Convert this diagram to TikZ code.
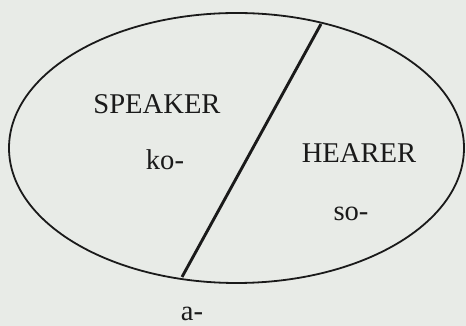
\documentclass[tikz,border=0pt]{standalone}
\usepackage{fontspec}
\setmainfont{Liberation Serif}
\usetikzlibrary{shapes.geometric}
\definecolor{paper}{HTML}{E8EBE7}
\definecolor{ink}{HTML}{1A1A1A}
\tikzset{
  field/.style={draw=ink, ellipse, line width=1.8pt, inner sep=0pt,
    minimum width=455pt, minimum height=270pt},
  divider/.style={draw=ink, line width=2.9pt},
  lbl/.style={anchor=base, text=ink, inner sep=0pt,
    font=\fontsize{28.6}{30}\selectfont}
}
\begin{document}
\begin{tikzpicture}[x=1pt,y=1pt]
  \fill[paper] (0,0) rectangle (466,326);
  \useasboundingbox (0,0) rectangle (466,326);
  % the whole field, split in two
  \node[field] (domain) at (236.5,178) {};
  \coordinate (cuttop) at (321,302);
  \coordinate (cutbot) at (182,49);
  \draw[divider] (cuttop) -- (cutbot);
  % labels
  \node[lbl] (speaker) at (157,212.7) {SPEAKER};
  \node[lbl] (ko) at (165,156) {ko-};
  \node[lbl] (hearer) at (359,163.7) {HEARER};
  \node[lbl] (so) at (351,105.3) {so-};
  \node[lbl] (a) at (192,5.5) {a-};
\end{tikzpicture}
\end{document}
